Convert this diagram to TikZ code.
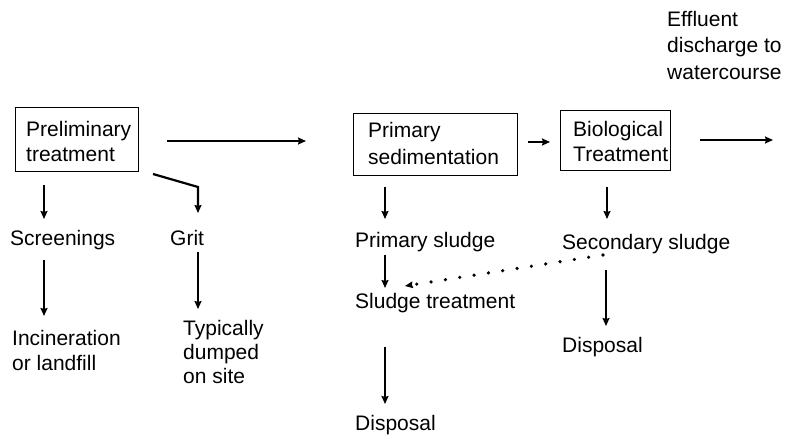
\documentclass[tikz,border=0pt]{standalone}
\usepackage{fontspec}
\setmainfont{Liberation Sans}
\usetikzlibrary{arrows.meta}
\begin{document}
\begin{tikzpicture}[x=1pt,y=-1pt,
  txt/.style={anchor=base west,inner sep=0pt,font=\fontsize{21}{26}\selectfont},
  boxn/.style={draw,line width=1.1pt,inner sep=0pt,anchor=north west},
  flow/.style={line width=2.2pt,-{Stealth[length=8pt,width=7pt,inset=1pt]}},
  dots/.style={line width=3.6pt,line cap=round,dash pattern=on 0pt off 14.5pt,-{Stealth[length=8pt,width=7pt,inset=1pt,line width=0pt]}}]
\useasboundingbox (0,0) rectangle (786,435);
% boxes
\node[boxn,minimum width=123pt,minimum height=64pt] (prelim) at (15,107) {};
\node[boxn,minimum width=164pt,minimum height=62pt] (primsed) at (353,113) {};
\node[boxn,minimum width=110pt,minimum height=60pt] (bio) at (560,110) {};
% box texts
\node[txt] (p1) at (26,137) {Preliminary};
\node[txt] (p2) at (26,162) {treatment};
\node[txt] (s1) at (368,138) {Primary};
\node[txt] (s2) at (368,165) {sedimentation};
\node[txt] (b1) at (573,137) {Biological};
\node[txt] (b2) at (573,162) {Treatment};
% other texts
\node[txt] (eff1) at (667,27) {Effluent};
\node[txt] (eff2) at (667,53) {discharge to};
\node[txt] (eff3) at (667,80) {watercourse};
\node[txt] (scr) at (10,246) {Screenings};
\node[txt] (grit) at (170,246) {Grit};
\node[txt] (inc1) at (12,345) {Incineration};
\node[txt] (inc2) at (12,370) {or landfill};
\node[txt] (typ1) at (183,335) {Typically};
\node[txt] (typ2) at (183,359) {dumped};
\node[txt] (typ3) at (183,383) {on site};
\node[txt] (psl) at (355,248) {Primary sludge};
\node[txt] (ssl) at (562,250) {Secondary sludge};
\node[txt] (stm) at (355,308) {Sludge treatment};
\node[txt] (dis1) at (355,430) {Disposal};
\node[txt] (dis2) at (562,352) {Disposal};
% connector end points
\coordinate (a1s) at (167,141); \coordinate (a1e) at (306,141);
\coordinate (a2s) at (153,174); \coordinate (a2m) at (198,187); \coordinate (a2e) at (198,213);
\coordinate (a3s) at (44,185);  \coordinate (a3e) at (44,219);
\coordinate (a4s) at (44,260);  \coordinate (a4e) at (44,316);
\coordinate (a5s) at (198,252); \coordinate (a5e) at (198,309);
\coordinate (a6s) at (528,142); \coordinate (a6e) at (550,142);
\coordinate (a7s) at (700,140); \coordinate (a7e) at (773,140);
\coordinate (a8s) at (385,187); \coordinate (a8e) at (385,219);
\coordinate (a9s) at (607,187); \coordinate (a9e) at (607,219);
\coordinate (a10s) at (385,255); \coordinate (a10e) at (385,288);
\coordinate (a11s) at (603,255); \coordinate (a11e) at (405,286);
\coordinate (a12s) at (385,347); \coordinate (a12e) at (385,404);
\coordinate (a13s) at (606,270); \coordinate (a13e) at (606,326);
% connectors
\draw[flow] (a1s) -- (a1e);
\draw[flow] (a2s) -- (a2m) -- (a2e);
\draw[flow] (a3s) -- (a3e);
\draw[flow] (a4s) -- (a4e);
\draw[flow] (a5s) -- (a5e);
\draw[flow] (a6s) -- (a6e);
\draw[flow] (a7s) -- (a7e);
\draw[flow] (a8s) -- (a8e);
\draw[flow] (a9s) -- (a9e);
\draw[flow] (a10s) -- (a10e);
\draw[dots] (a11s) -- (a11e);
\draw[flow] (a12s) -- (a12e);
\draw[flow] (a13s) -- (a13e);
\end{tikzpicture}
\end{document}
